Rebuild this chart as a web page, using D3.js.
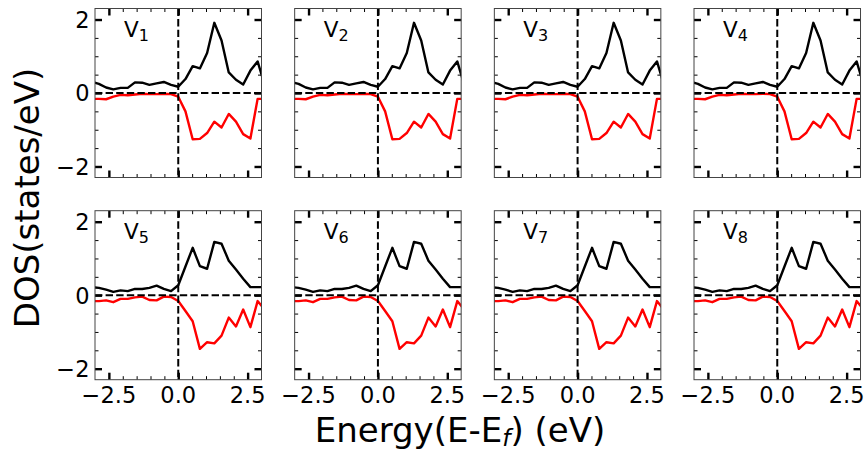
<!DOCTYPE html>
<html>
<head>
<meta charset="utf-8">
<script src="https://cdn.jsdelivr.net/npm/d3@7"></script>
<style>
  html, body { margin: 0; padding: 0; background: #fff; }
  svg { display: block; font-family: "DejaVu Sans", sans-serif; }
</style>
</head>
<body>
<svg id="chart" width="868" height="454"></svg>
<script>
// ---- data ----
const energy = [-3.12, -2.86, -2.60, -2.34, -2.08, -1.82, -1.56, -1.30, -1.04, -0.78, -0.52, -0.26,
                0, 0.26, 0.52, 0.78, 1.04, 1.30, 1.56, 1.82, 2.08, 2.34, 2.60, 2.86, 3.12];

// top row (V1..V4): spin up (black) and spin down (red)
const upTop   = [0.30, 0.25, 0.15, 0.10, 0.14, 0.14, 0.29, 0.28, 0.22, 0.26, 0.30, 0.22,
                 0.17, 0.38, 0.73, 0.67, 1.09, 1.91, 1.43, 0.56, 0.36, 0.23, 0.61, 0.86, 0.20];
const downTop = [-0.16, -0.16, -0.17, -0.10, -0.05, -0.06, -0.04, -0.02, -0.03, -0.03, -0.02, -0.03,
                 -0.10, -0.50, -1.26, -1.25, -1.09, -0.78, -0.94, -0.57, -0.78, -1.12, -1.24, -0.16, -0.16];

// bottom row (V5..V8)
const upBottom   = [0.22, 0.20, 0.15, 0.09, 0.13, 0.11, 0.17, 0.17, 0.20, 0.26, 0.17, 0.11,
                    0.27, 0.78, 1.29, 0.79, 0.72, 1.45, 1.40, 0.94, 0.70, 0.45, 0.22, 0.22, 0.22];
const downBottom = [-0.16, -0.16, -0.14, -0.19, -0.10, -0.10, -0.06, -0.04, -0.13, -0.14, -0.04, -0.05,
                    -0.16, -0.43, -0.71, -1.46, -1.28, -1.31, -1.10, -0.61, -0.85, -0.39, -0.87, -0.16, -0.40];

const panelNums = ["1", "2", "3", "4", "5", "6", "7", "8"];
const xTickValues = [-2.5, 0, 2.5];
const xTickLabels = ["\u22122.5", "0.0", "2.5"];
const xMinorValues = [-2, -1.5, -1, -0.5, 0.5, 1, 1.5, 2];
const yTickValues = [-2, 0, 2];
const yTickLabels = ["\u22122", "0", "2"];
const yMinorValues = [-1.5, -1, -0.5, 0.5, 1, 1.5];
const xDomain = [-3, 3];
const yDomain = [-2.3, 2.3];

// ---- layout ----
const svg = d3.select("#chart");
const panelW = 166.5, panelH = 169;
const left0 = 95, colStep = 199.67;
const top0 = 8.5, rowStep = 202.2;

const x = d3.scaleLinear().domain(xDomain).range([0, panelW]);
const y = d3.scaleLinear().domain(yDomain).range([panelH, 0]);

const defs = svg.append("defs");
defs.append("clipPath").attr("id", "clip")
  .append("rect").attr("x", 0).attr("y", 0).attr("width", panelW).attr("height", panelH);

const line = d3.line().x((d, i) => x(energy[i])).y(d => y(d));

panelNums.forEach((num, i) => {
  const col = i % 4, row = Math.floor(i / 4);
  const g = svg.append("g")
    .attr("transform", `translate(${left0 + col * colStep},${top0 + row * rowStep})`);
  const up = row === 0 ? upTop : upBottom;
  const down = row === 0 ? downTop : downBottom;

  const plot = g.append("g").attr("clip-path", "url(#clip)");
  plot.append("path").datum(up).attr("d", line)
    .attr("fill", "none").attr("stroke", "#000").attr("stroke-width", 2.4)
    .attr("stroke-linejoin", "round");
  plot.append("path").datum(down).attr("d", line)
    .attr("fill", "none").attr("stroke", "#ff0000").attr("stroke-width", 2.4)
    .attr("stroke-linejoin", "round");

  // dashed reference lines
  plot.append("line").attr("x1", 0).attr("x2", panelW).attr("y1", y(0)).attr("y2", y(0))
    .attr("stroke", "#000").attr("stroke-width", 2).attr("stroke-dasharray", "7.4,3.2");
  plot.append("line").attr("x1", x(0)).attr("x2", x(0)).attr("y1", 0).attr("y2", panelH)
    .attr("stroke", "#000").attr("stroke-width", 2).attr("stroke-dasharray", "7.4,3.2");

  // ticks (inward, all sides) via d3 axes
  const majLen = 7, minLen = 3.5;
  const mkAxis = (fn, scale, vals, len) => fn(scale).tickValues(vals).tickSize(len).tickFormat("");
  const styleAxis = (sel, w) => {
    sel.select(".domain").remove();
    sel.selectAll(".tick line").attr("stroke", "#000").attr("stroke-width", w);
  };
  styleAxis(g.append("g").attr("transform", `translate(0,${panelH})`).call(mkAxis(d3.axisTop, x, xTickValues, majLen)), 2.4);
  styleAxis(g.append("g").attr("transform", `translate(0,${panelH})`).call(mkAxis(d3.axisTop, x, xMinorValues, minLen)), 1);
  styleAxis(g.append("g").call(mkAxis(d3.axisBottom, x, xTickValues, majLen)), 2.4);
  styleAxis(g.append("g").call(mkAxis(d3.axisBottom, x, xMinorValues, minLen)), 1);
  styleAxis(g.append("g").call(mkAxis(d3.axisRight, y, yTickValues, majLen)), 2.4);
  styleAxis(g.append("g").call(mkAxis(d3.axisRight, y, yMinorValues, minLen)), 1);
  styleAxis(g.append("g").attr("transform", `translate(${panelW},0)`).call(mkAxis(d3.axisLeft, y, yTickValues, majLen)), 2.4);
  styleAxis(g.append("g").attr("transform", `translate(${panelW},0)`).call(mkAxis(d3.axisLeft, y, yMinorValues, minLen)), 1);

  // frame
  g.append("rect").attr("x", 0).attr("y", 0).attr("width", panelW).attr("height", panelH)
    .attr("fill", "none").attr("stroke", "#444").attr("stroke-width", 1);

  // tick labels
  if (col === 0) {
    yTickValues.forEach((v, k) => {
      g.append("text").attr("x", -5.5).attr("y", y(v)).attr("dy", "0.37em")
        .attr("text-anchor", "end").attr("font-size", 22.5).attr("fill", "#000")
        .text(yTickLabels[k]);
    });
  }
  if (row === 1) {
    xTickValues.forEach((v, k) => {
      g.append("text").attr("x", x(v)).attr("y", panelH + 23.5)
        .attr("text-anchor", "middle").attr("font-size", 22.5).attr("fill", "#000")
        .text(xTickLabels[k]);
    });
  }

  // panel label
  const lab = g.append("text").attr("x", 29).attr("y", 28).attr("font-size", 21.5).attr("fill", "#000");
  lab.append("tspan").text("V");
  lab.append("tspan").attr("font-size", 16).attr("dy", 4.5).text(num);
});

// axis titles
svg.append("text")
  .attr("transform", "translate(39,198) rotate(-90)")
  .attr("text-anchor", "middle").attr("font-size", 34).attr("fill", "#000")
  .text("DOS(states/eV)");

const xl = svg.append("text").attr("x", 460).attr("y", 441.5)
  .attr("text-anchor", "middle").attr("font-size", 34).attr("fill", "#000");
xl.append("tspan").text("Energy(E-E");
xl.append("tspan").attr("font-size", 23.5).attr("font-style", "italic").attr("dy", 4).text("f");
xl.append("tspan").attr("dy", -4).text(") (eV)");
</script>
</body>
</html>
